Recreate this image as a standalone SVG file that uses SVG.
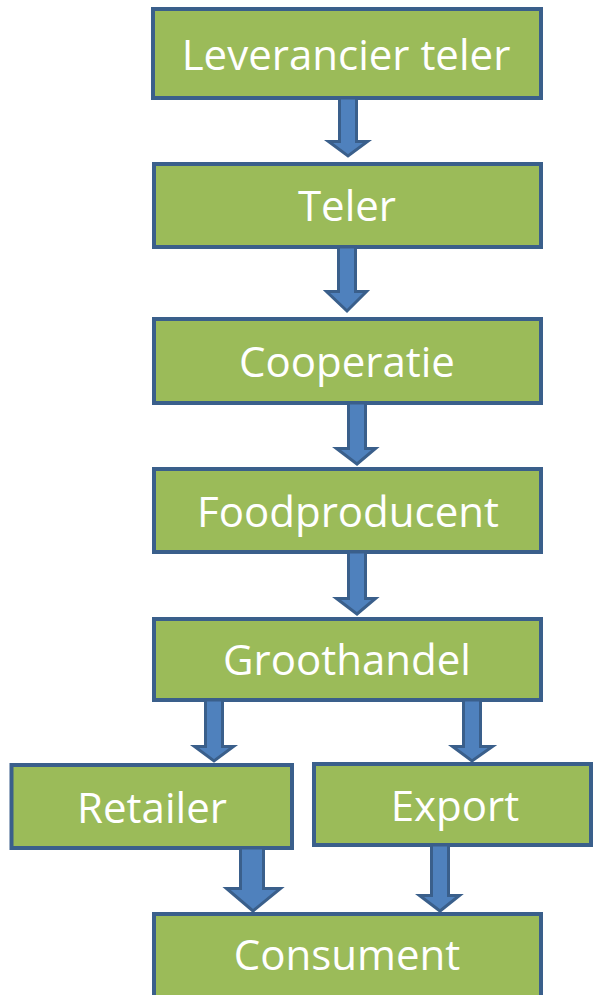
<svg xmlns="http://www.w3.org/2000/svg" width="593" height="995" viewBox="0 0 593 995">
<style>
.box{fill:#9BBB59;stroke:#3A5F8B;stroke-width:4}
.lbl{font-family:"Open Sans","Liberation Sans",sans-serif;font-size:42px;fill:#FFFFFF;text-anchor:middle}
.arr{fill:#4F81BD;stroke:#3A5F8B;stroke-width:3;stroke-linejoin:miter}
</style>
<rect width="593" height="995" fill="#FFFFFF"/>
<g id="n-leverancier"><rect class="box" x="153" y="9" width="388" height="89"/><text class="lbl" x="346" y="70">Leverancier teler</text></g>
<g id="n-teler"><rect class="box" x="154" y="164" width="387" height="83"/><text class="lbl" x="347" y="221">Teler</text></g>
<g id="n-cooperatie"><rect class="box" x="154" y="319" width="387" height="84"/><text class="lbl" x="347" y="377">Cooperatie</text></g>
<g id="n-foodproducent"><rect class="box" x="154" y="469" width="387" height="83"/><text class="lbl" x="348" y="527">Foodproducent</text></g>
<g id="n-groothandel"><rect class="box" x="154" y="619" width="387" height="81"/><text class="lbl" x="347" y="675">Groothandel</text></g>
<g id="n-retailer"><rect class="box" x="11.5" y="765" width="280.5" height="83"/><text class="lbl" x="152" y="823">Retailer</text></g>
<g id="n-export"><rect class="box" x="314" y="764" width="277" height="81"/><text class="lbl" x="455" y="821">Export</text></g>
<g id="n-consument"><rect class="box" x="154" y="914" width="387" height="90"/><text class="lbl" x="347" y="970">Consument</text></g>
<g id="connectors">
<path class="arr" d="M339.5,98 L339.5,141.5 L328.5,141.5 L348,156 L367.5,141.5 L356.5,141.5 L356.5,98 Z"/>
<path class="arr" d="M338.5,247 L338.5,291.5 L326.5,291.5 L347,311 L366.5,291.5 L355.5,291.5 L355.5,247 Z"/>
<path class="arr" d="M348.5,403 L348.5,448.5 L336.5,448.5 L357,464 L375.5,448.5 L365.5,448.5 L365.5,403 Z"/>
<path class="arr" d="M348.5,552 L348.5,598.5 L336.5,598.5 L357,614 L375.5,598.5 L365.5,598.5 L365.5,552 Z"/>
<path class="arr" d="M205.5,700 L205.5,746.5 L194.5,746.5 L214,761 L233.5,746.5 L222.5,746.5 L222.5,700 Z"/>
<path class="arr" d="M463.5,700 L463.5,746.5 L452.5,746.5 L472,761 L492.5,746.5 L480.5,746.5 L480.5,700 Z"/>
<path class="arr" d="M240.5,848 L240.5,888.5 L226.5,888.5 L253,911 L280.5,888.5 L263.5,888.5 L263.5,848 Z"/>
<path class="arr" d="M431.5,845 L431.5,895.5 L419.5,895.5 L440,911 L459.5,895.5 L448.5,895.5 L448.5,845 Z"/>
</g>
</svg>
